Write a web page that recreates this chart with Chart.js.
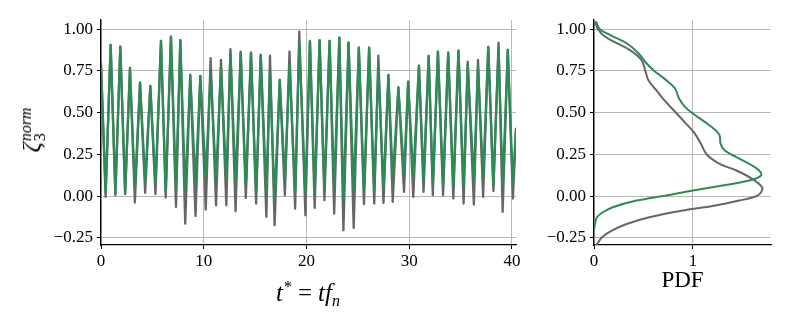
<!DOCTYPE html>
<html><head><meta charset="utf-8">
<script src="https://cdn.jsdelivr.net/npm/chart.js@4/dist/chart.umd.min.js"></script>
<style>
html,body{margin:0;padding:0;background:#fff;width:793px;height:317px;overflow:hidden;position:relative}
#wl{position:absolute;left:0;top:0;width:540px;height:317px}
#wr{position:absolute;left:540px;top:0;width:253px;height:317px}
.mt{position:absolute;font-family:'Liberation Serif',serif;color:#000;white-space:nowrap}
#xt{left:208px;width:200px;top:280px;text-align:center;font-size:25px;line-height:26px}
#xt sup{font-size:16px;vertical-align:9px;line-height:0;margin-left:1px}
#xt sub{font-size:16px;vertical-align:-5px;line-height:0}
#xt .eq{margin:0 6px}
#yt{left:32px;top:130px;transform:translate(-50%,-50%) rotate(-90deg);font-size:25px;line-height:26px;display:flex;align-items:center}
#yt .ss{display:inline-flex;flex-direction:column;font-size:16px;line-height:14px;margin-left:1px;margin-top:2px}
</style></head><body>
<div id="wl"><canvas id="c1"></canvas></div>
<div id="wr"><canvas id="c2"></canvas></div>
<div class="mt" id="xt"><i>t</i><sup>*</sup><span class="eq">=</span><i>tf</i><sub><i>n</i></sub></div>
<div class="mt" id="yt"><i>ζ</i><span class="ss"><i>norm</i><span>3</span></span></div>
<script>
// ---- time series (peak/trough knots) ----
const timeKnots = [0,
  0.45, 0.94, 1.40, 1.88, 2.35, 2.82, 3.30, 3.80, 4.30, 4.80,
  5.30, 5.84, 6.30, 6.81, 7.30, 7.72, 8.20, 8.69, 9.20, 9.67,
  10.2, 10.67, 11.2, 11.68, 12.2, 12.6, 13.1, 13.6, 14.1, 14.6,
  15.1, 15.55, 16.1, 16.45, 16.9, 17.4, 17.9, 18.35, 18.9, 19.3,
  19.9, 20.34, 20.8, 21.28, 21.75, 22.25, 22.7, 23.2, 23.6, 24.1,
  24.6, 25.1, 25.6, 26.1, 26.6, 27.0, 27.5, 27.98, 28.4, 28.95,
  29.5, 29.9, 30.4, 30.95, 31.4, 31.9, 32.3, 32.8, 33.3, 33.8,
  34.3, 34.8, 35.3, 35.7, 36.3, 36.7, 37.2, 37.7, 38.2, 38.7,
  39.1, 39.6, 40.1, 40.4];
const grayValues = [0.80,
  -0.004, 0.906, 0.006, 0.896, 0.012, 0.77, -0.038, 0.68, 0.02, 0.66,
  0.012, 0.93, -0.008, 0.956, -0.064, 0.934, -0.164, 0.728, -0.118, 0.72,
  -0.08, 0.826, -0.054, 0.816, -0.054, 0.88, -0.09, 0.866, -0.01, 0.86,
  -0.044, 0.846, -0.124, 0.842, -0.174, 0.696, 0.006, 0.866, -0.074, 0.986,
  -0.114, 0.93, -0.07, 0.934, -0.024, 0.93, -0.104, 0.95, -0.204, 0.92,
  -0.19, 0.89, -0.048, 0.89, -0.044, 0.842, -0.04, 0.726, -0.034, 0.652,
  0.026, 0.686, -0.004, 0.782, 0.026, 0.84, 0.006, 0.866, 0.006, 0.86,
  -0.014, 0.872, -0.044, 0.806, -0.05, 0.816, -0.004, 0.894, 0.03, 0.92,
  -0.094, 0.876, -0.014, 0.40];
const greenValues = [0.78,
  0.02, 0.906, 0.016, 0.896, 0.02, 0.76, 0.046, 0.68, 0.09, 0.66,
  0.076, 0.93, 0.026, 0.956, 0.04, 0.934, 0.026, 0.72, 0.076, 0.72,
  0.12, 0.74, 0.106, 0.776, 0.096, 0.86, 0.086, 0.86, 0.066, 0.86,
  0.026, 0.846, 0.026, 0.75, -0.024, 0.696, 0.10, 0.786, 0.026, 0.916,
  0.026, 0.93, 0.016, 0.934, 0.046, 0.93, 0.046, 0.95, -0.014, 0.92,
  0.036, 0.89, 0.036, 0.89, 0.026, 0.77, 0.056, 0.726, 0.106, 0.652,
  0.136, 0.686, 0.116, 0.782, 0.106, 0.84, 0.066, 0.866, 0.066, 0.86,
  0.056, 0.872, 0.056, 0.786, 0.1, 0.776, 0.106, 0.894, 0.066, 0.886,
  0.056, 0.876, 0.066, 0.41];

// ---- PDF panel ----
const grayLevels  = [1.046, 1.0, 0.956, 0.916, 0.876, 0.816, 0.75, 0.695, 0.635, 0.575, 0.5, 0.435, 0.375, 0.315, 0.25, 0.194, 0.154, 0.104, 0.054, 0.024, 0.0, -0.026, -0.056, -0.086, -0.126, -0.166, -0.206, -0.246, -0.287, -0.297];
const grayDensity = [0.01, 0.04, 0.11, 0.23, 0.36, 0.48, 0.52, 0.55, 0.63, 0.71, 0.83, 0.93, 1.02, 1.08, 1.14, 1.27, 1.44, 1.60, 1.70, 1.69, 1.64, 1.47, 1.23, 0.90, 0.56, 0.33, 0.18, 0.08, 0.03, 0.01];
const greenLevels  = [1.046, 1.0, 0.966, 0.916, 0.856, 0.796, 0.75, 0.695, 0.645, 0.585, 0.535, 0.495, 0.445, 0.395, 0.365, 0.315, 0.275, 0.234, 0.184, 0.154, 0.124, 0.094, 0.064, 0.034, 0.004, -0.026, -0.066, -0.096, -0.126, -0.166, -0.2];
const greenDensity = [0.02, 0.06, 0.16, 0.33, 0.45, 0.53, 0.61, 0.73, 0.82, 0.86, 0.92, 1.0, 1.12, 1.23, 1.27, 1.28, 1.32, 1.44, 1.60, 1.67, 1.69, 1.57, 1.30, 1.00, 0.73, 0.43, 0.19, 0.09, 0.03, 0.01, 0.0];

// ---- ticks ----
const yTicks = [-0.25, 0, 0.25, 0.5, 0.75, 1.0];
const yTickLabels = ['\u22120.25', '0.00', '0.25', '0.50', '0.75', '1.00'];
const tTicks = [0, 10, 20, 30, 40];
const tTickLabels = ['0', '10', '20', '30', '40'];
const pdfTicks = [0, 1];
const pdfTickLabels = ['0', '1'];

const GRAY = '#666666', GREEN = '#2e8b57';
const tickFont = {family: "'Liberation Serif', serif", size: 17};
const Y_MIN = -0.292, Y_MAX = 1.055;

function fixedTicks(vals) { return s => { s.ticks = vals.map(v => ({value: v})); }; }
function labelFrom(vals, labels) { return v => { const i = vals.findIndex(x => Math.abs(x - v) < 1e-9); return i >= 0 ? labels[i] : ''; }; }
const gridOpts = {color: '#b0b0b0', lineWidth: 0.9, tickColor: '#000', tickLength: 4, tickWidth: 1};
const borderOpts = {display: true, color: '#000', width: 1.3};

new Chart(document.getElementById('c1'), {
  type: 'line',
  data: {datasets: [
    {data: timeKnots.map((t, i) => ({x: t, y: greenValues[i]})), borderColor: GREEN, borderWidth: 2.3, borderJoinStyle: 'round', pointRadius: 0, tension: 0, fill: false},
    {data: timeKnots.map((t, i) => ({x: t, y: grayValues[i]})), borderColor: GRAY, borderWidth: 2.3, borderJoinStyle: 'round', pointRadius: 0, tension: 0, fill: false}
  ]},
  options: {
    responsive: true, maintainAspectRatio: false, animation: false,
    layout: {padding: {top: 20, right: 24, left: 0, bottom: 0}},
    plugins: {legend: {display: false}, tooltip: {enabled: false}},
    scales: {
      x: {type: 'linear', min: 0, max: 40.4, afterBuildTicks: fixedTicks(tTicks), afterFit: s => { s.height = 72; },
          ticks: {font: tickFont, color: '#000', padding: 2, maxRotation: 0, callback: labelFrom(tTicks, tTickLabels)},
          grid: gridOpts, border: borderOpts},
      y: {type: 'linear', min: Y_MIN, max: Y_MAX, afterBuildTicks: fixedTicks(yTicks), afterFit: s => { s.width = 101; },
          ticks: {font: tickFont, color: '#000', padding: 4, callback: labelFrom(yTicks, yTickLabels)},
          grid: gridOpts, border: borderOpts}
    }
  }
});

new Chart(document.getElementById('c2'), {
  type: 'line',
  data: {datasets: [
    {data: greenLevels.map((y, i) => ({x: greenDensity[i], y: y})), borderColor: GREEN, borderWidth: 2, pointRadius: 0, tension: 0.35, fill: false},
    {data: grayLevels.map((y, i) => ({x: grayDensity[i], y: y})), borderColor: GRAY, borderWidth: 2, pointRadius: 0, tension: 0.35, fill: false}
  ]},
  options: {
    responsive: true, maintainAspectRatio: false, animation: false,
    layout: {padding: {top: 20, right: 22, left: 0, bottom: 0}},
    plugins: {legend: {display: false}, tooltip: {enabled: false}},
    scales: {
      x: {type: 'linear', min: 0, max: 1.79, afterBuildTicks: fixedTicks(pdfTicks), afterFit: s => { s.height = 72; },
          ticks: {font: tickFont, color: '#000', padding: 2, maxRotation: 0, callback: labelFrom(pdfTicks, pdfTickLabels)},
          grid: gridOpts, border: borderOpts,
          title: {display: true, text: 'PDF', color: '#000', font: {family: "'Liberation Serif', serif", size: 23}, padding: {top: 0, bottom: 22}}},
      y: {type: 'linear', min: Y_MIN, max: Y_MAX, afterBuildTicks: fixedTicks(yTicks), afterFit: s => { s.width = 54; },
          ticks: {font: tickFont, color: '#000', padding: 4, callback: labelFrom(yTicks, yTickLabels)},
          grid: gridOpts, border: borderOpts}
    }
  }
});
</script>
</body></html>
